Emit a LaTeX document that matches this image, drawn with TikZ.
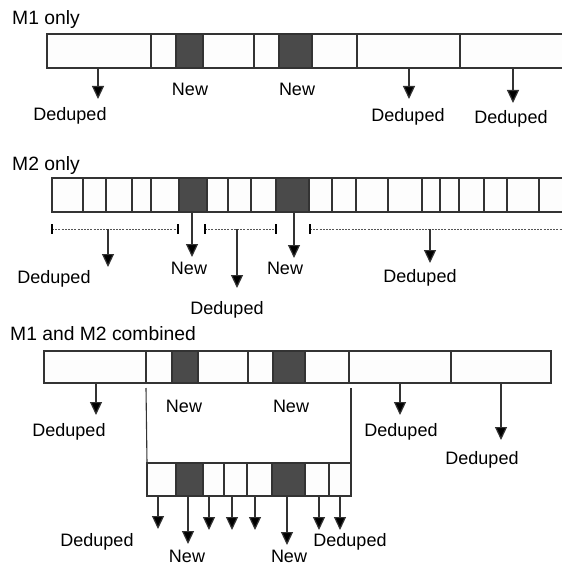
\documentclass[tikz,border=0pt]{standalone}
\usepackage{fontspec}
\setmainfont{Liberation Sans}
\usetikzlibrary{arrows.meta}
\definecolor{cellfill}{HTML}{FDFDFD}
\definecolor{newfill}{HTML}{4A4A4A}
\definecolor{edge}{HTML}{333333}
\definecolor{spancol}{HTML}{555555}
\tikzset{
 lbl/.style={font=\fontsize{18}{20}\selectfont, anchor=base, inner sep=0pt},
 head/.style={font=\fontsize{19.3}{22}\selectfont, anchor=base west, inner sep=0pt},
 cellbox/.style={draw=edge, fill=cellfill, line width=1.2pt},
 newbox/.style={draw=edge, fill=newfill, line width=1.2pt},
 divider/.style={draw=edge, line width=1.2pt},
 arr/.style={draw=edge, line width=1.2pt, -{Triangle[length=13pt,width=12pt,fill=black]}},
 spanline/.style={draw=spancol, line width=1pt, dash pattern=on 2pt off 1.2pt},
 tickmark/.style={draw=black, line width=1.4pt},
 funnel/.style={draw=edge, line width=1.1pt},
}
\begin{document}
\begin{tikzpicture}[x=1pt,y=-1pt]
\useasboundingbox (0,0) rectangle (561,569);
\fill[white] (0,0) rectangle (561,569);

% ---------------- M1 only ----------------
\node[head] (h1) at (12,25) {M1 only};
\draw[cellbox] (47,34) rectangle (570,68);
\foreach \x in {151,254,357,460} \draw[divider] (\x,34) -- (\x,68);
\draw[newbox] (176,34) rectangle (203,68);
\draw[newbox] (279,34) rectangle (312,68);

\node[lbl] (m1d1) at (70,121) {Deduped};
\node[lbl] (m1n1) at (190,96) {New};
\node[lbl] (m1n2) at (297,96) {New};
\node[lbl] (m1d2) at (408,122) {Deduped};
\node[lbl] (m1d3) at (511,124) {Deduped};

\coordinate (m1a1s) at (98,68);  \coordinate (m1a1e) at (98,99);
\coordinate (m1a2s) at (409,68); \coordinate (m1a2e) at (409,99);
\coordinate (m1a3s) at (513,68); \coordinate (m1a3e) at (513,103);
\draw[arr] (m1a1s) -- (m1a1e);
\draw[arr] (m1a2s) -- (m1a2e);
\draw[arr] (m1a3s) -- (m1a3e);

% ---------------- M2 only ----------------
\node[head] (h2) at (12,171) {M2 only};
\draw[cellbox] (52,178) rectangle (570,212);
\foreach \x in {83,106,132,151,228,251,332,356,388,422,440,459,484,507,539}
  \draw[divider] (\x,178) -- (\x,212);
\draw[newbox] (179,178) rectangle (207,212);
\draw[newbox] (276,178) rectangle (309,212);

% spans
\coordinate (s1l) at (52,229);  \coordinate (s1r) at (178,229);
\coordinate (s2l) at (205,229); \coordinate (s2r) at (276,229);
\coordinate (s3l) at (310,229); \coordinate (s3r) at (570,229);
\draw[spanline] (s1l) -- (s1r);
\draw[spanline] (s2l) -- (s2r);
\draw[spanline] (s3l) -- (s3r);
\foreach \x in {52,178,205,276,310} \draw[tickmark] (\x,224) -- (\x,234);

\node[lbl] (m2d1) at (54,283) {Deduped};
\node[lbl] (m2n1) at (189,274) {New};
\node[lbl] (m2d2) at (227,314) {Deduped};
\node[lbl] (m2n2) at (285,274) {New};
\node[lbl] (m2d3) at (420,282) {Deduped};

\coordinate (m2a1s) at (108,229); \coordinate (m2a1e) at (108,267);
\coordinate (m2a2s) at (192,212); \coordinate (m2a2e) at (192,257);
\coordinate (m2a3s) at (237,229); \coordinate (m2a3e) at (237,288);
\coordinate (m2a4s) at (294,212); \coordinate (m2a4e) at (294,258);
\coordinate (m2a5s) at (430,229); \coordinate (m2a5e) at (430,263);
\draw[arr] (m2a1s) -- (m2a1e);
\draw[arr] (m2a2s) -- (m2a2e);
\draw[arr] (m2a3s) -- (m2a3e);
\draw[arr] (m2a4s) -- (m2a4e);
\draw[arr] (m2a5s) -- (m2a5e);

% ---------------- M1 and M2 combined ----------------
\node[head] (h3) at (10,340) {M1 and M2 combined};
\draw[cellbox] (44,351) rectangle (551,383);
\foreach \x in {146,248,349,451} \draw[divider] (\x,351) -- (\x,383);
\draw[newbox] (172,351) rectangle (198,383);
\draw[newbox] (273,351) rectangle (305,383);

\node[lbl] (cd1) at (69,436) {Deduped};
\node[lbl] (cn1) at (184,412) {New};
\node[lbl] (cn2) at (291,412) {New};
\node[lbl] (cd2) at (401,436) {Deduped};
\node[lbl] (cd3) at (482,464) {Deduped};

\coordinate (ca1s) at (96,383);  \coordinate (ca1e) at (96,415);
\coordinate (ca2s) at (400,383); \coordinate (ca2e) at (400,415);
\coordinate (ca3s) at (501,383); \coordinate (ca3e) at (501,440);
\draw[arr] (ca1s) -- (ca1e);
\draw[arr] (ca2s) -- (ca2e);
\draw[arr] (ca3s) -- (ca3e);

% funnel to expanded bar
\coordinate (fl1) at (146,388); \coordinate (fl2) at (147,463);
\coordinate (fr1) at (351,388); \coordinate (fr2) at (351,463);
\draw[funnel] (fl1) -- (fl2);
\draw[funnel] (fr1) -- (fr2);

% expanded bar
\draw[cellbox] (147,463) rectangle (351,496);
\foreach \x in {224,247,329} \draw[divider] (\x,463) -- (\x,496);
\draw[newbox] (176,463) rectangle (203,496);
\draw[newbox] (272,463) rectangle (305,496);

\node[lbl] (ed1) at (97,546) {Deduped};
\node[lbl] (en1) at (187,562) {New};
\node[lbl] (en2) at (289,562) {New};
\node[lbl] (ed2) at (350,546) {Deduped};

\foreach \x/\t [count=\i] in {158/529,188/544,209/530,232/530,255/530,287/545,319/530,340/530}{
  \coordinate (ea\i s) at (\x,496);
  \coordinate (ea\i e) at (\x,\t);
  \draw[arr] (ea\i s) -- (ea\i e);
}
\end{tikzpicture}
\end{document}
